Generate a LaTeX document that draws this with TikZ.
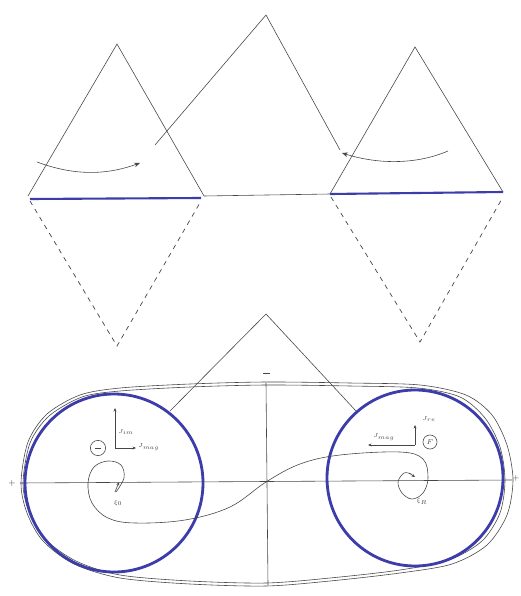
\documentclass[tikz,border=0pt]{standalone}
\usetikzlibrary{arrows.meta}
\definecolor{penblue}{RGB}{60,60,170}
\definecolor{pengray}{RGB}{70,70,70}
\tikzset{
  x=0.03cm, y=-0.03cm,
  thinline/.style={draw=pengray, line width=0.5pt},
  blueline/.style={draw=penblue, line width=1.8pt},
  bluering/.style={draw=penblue, line width=2.4pt},
  dashline/.style={draw=pengray, line width=0.6pt, dash pattern=on 4pt off 4pt},
  tip/.style={-{Stealth[length=5pt,width=4pt]}},
  smalltip/.style={-{Stealth[length=3pt,width=2.5pt]}},
  lbl/.style={font=\fontsize{4.5}{5}\selectfont, text=pengray, inner sep=0pt},
}
\begin{document}
\begin{tikzpicture}
\useasboundingbox (0,0) rectangle (520,596);
% ---------- top ----------
\coordinate (LA) at (117,44);
\coordinate (LL) at (28,196);
\coordinate (LR) at (204,196);
\coordinate (LD) at (117,346);
\coordinate (MA) at (266,15);
\coordinate (ML) at (155,145);
\coordinate (MR) at (340,150);
\coordinate (RA) at (415,47);
\coordinate (RL) at (330,194);
\coordinate (RR) at (503,192);
\coordinate (RD) at (420,342);

\draw[thinline] (LL) -- (LA) -- (LR);
\draw[thinline] (RL) -- (RA) -- (RR);
\draw[thinline] (ML) -- (MA) -- (MR);
\draw[thinline] (LR) -- (RL);
\draw[blueline] (30,199) -- (201,198);
\draw[blueline] (RL) -- (RR);
\draw[dashline] (30,201) -- (LD) -- (201,201);
\draw[dashline] (331,197) -- (RD) -- (503,197);

\draw[thinline, tip] (37,162) .. controls (80,178) and (112,173) .. (140,163);
\draw[thinline, tip] (448,151) .. controls (418,164) and (380,165) .. (342,153);

% ---------- bottom ----------
\coordinate (BA) at (266,314);
\coordinate (BL) at (170,411);
\coordinate (BR) at (356,411);
\draw[thinline] (BL) -- (BA) -- (BR);
\draw[thinline, line width=0.8pt] (263,373) -- (270,373);

% outer capsule (doubled hand-drawn outline)
\draw[thinline] plot[smooth cycle, tension=0.5] coordinates {
  (21,483) (28,442) (47,414) (80,395) (120,388) (190,384) (266,382)
  (350,383) (420,385) (466,395) (492,415) (507,445) (513,480) (507,515)
  (487,545) (452,564) (400,573) (330,581) (266,586) (190,584) (120,578)
  (74,564) (43,541) (27,513)};
\draw[thinline] plot[smooth cycle, tension=0.5] coordinates {
  (23,483) (30,443) (49,416) (82,397) (120,391) (190,387) (266,385)
  (350,386) (418,388) (460,397) (485,418) (500,447) (505,480) (500,513)
  (482,541) (449,560) (400,570) (330,578) (266,583) (190,581) (120,575)
  (76,561) (45,539) (29,512)};

% axes
\draw[thinline] (266,383) -- (268,585);
\draw[thinline] (20,483) -- (512,480);
\node[lbl, font=\fontsize{7}{7}\selectfont] (pl) at (12,483) {+};
\node[lbl, font=\fontsize{7}{7}\selectfont] (pr) at (516,478) {+};

% blue circles
\coordinate (CL) at (114,483);
\coordinate (CR) at (415,478);
\draw[bluering] (CL) circle[radius=89];
\draw[bluering] (CR) circle[radius=88];

% spiral curve
\draw[thinline] plot[smooth, tension=0.6] coordinates {
  (116,492) (124,478) (121,465) (108,461) (94,467) (88,483) (92,503)
  (108,518) (135,523) (185,520) (230,507) (266,482) (300,464) (340,455)
  (400,452) (423,459) (428,478) (423,493) (412,499) (402,493) (398,482)
  (404,473) (411,474)};
\draw[thinline, smalltip] (115,492) -- (119,482);
\draw[thinline, smalltip] (409,473) -- (415,477);

\node[lbl] (xil) at (118,503) {$\xi_0$};
\node[lbl] (xir) at (422,501) {$\xi_R$};

% left local axes
\coordinate (OL) at (115,448);
\coordinate (OLu) at (115,408);
\coordinate (OLr) at (136,448);
\draw[thinline, smalltip] (OL) -- (OLu);
\draw[thinline, smalltip] (OL) -- (OLr);
\node[lbl] (jiml) at (126,432) {$J_{im}$};
\node[lbl, anchor=west] (jmagl) at (138,447) {$J_{mag}$};
\node[draw=pengray, line width=0.5pt, circle, inner sep=0pt, minimum size=13pt] (minus) at (98,448) {};
\draw[thinline, line width=0.7pt] ([xshift=-2.5pt]minus.center) -- ([xshift=2.5pt]minus.center);

% right local axes
\coordinate (OR) at (415,445);
\coordinate (ORu) at (415,425);
\coordinate (ORl) at (368,445);
\draw[thinline, smalltip] (OR) -- (ORu);
\draw[thinline, smalltip] (OR) -- (ORl);
\node[lbl] (jrer) at (429,419) {$J_{re}$};
\node[lbl] (jmagr) at (384,437) {$J_{mag}$};
\node[draw=pengray, line width=0.5pt, circle, inner sep=0pt, minimum size=12pt,
      font=\fontsize{6}{6}\selectfont, text=pengray] (plus) at (430,442) {$F$};
\end{tikzpicture}
\end{document}
